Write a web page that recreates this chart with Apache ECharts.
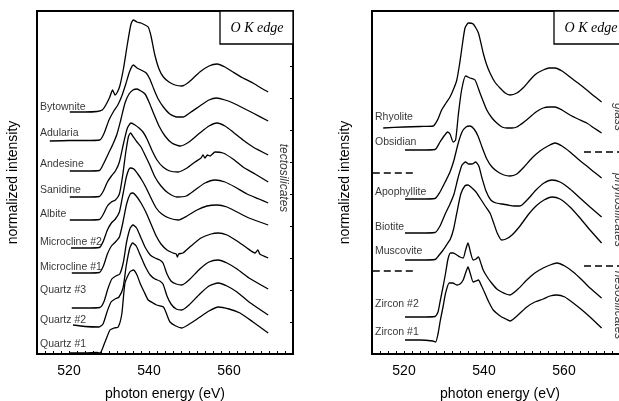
<!DOCTYPE html>
<html><head><meta charset="utf-8">
<script src="https://cdn.jsdelivr.net/npm/echarts@6/dist/echarts.min.js"></script>
<style>html,body{margin:0;padding:0;background:#fff}#c{width:619px;height:401px}</style>
</head><body><div id="c"></div>
<script>
// ---- data: photon energy (eV) vs offset normalized intensity (arb. units) ----
const xTicks = [520, 540, 560];
// left panel: tectosilicates
const bytownite = [[520.2,242],[524,242],[527,242.5],[528.3,244],[529.2,249],[530.2,257],[530.9,264],[531.5,259],[532.1,262],[532.7,268],[533.6,285],[534.6,310],[535.5,330],[536.1,334],[537,332],[538,331],[539,329],[539.8,327],[540.5,318],[541.4,300],[542.5,285],[543.6,277],[545,272],[546.5,269],[548.2,268],[550,272],[552.7,282],[555,288],[557,290],[559,287],[561,282],[563.5,276],[566,271],[568,266],[569.8,262]];
const adularia = [[515.2,213],[520,213.5],[524,213.5],[527.7,214],[528.8,221],[530,234],[531.2,243],[532.2,249],[533.2,258],[534.2,270],[535.2,283],[536.1,289],[537,286],[538,284],[539.3,281],[540.2,275],[541.2,265],[542.3,255],[543.6,247],[545.2,240],[547,237],[548.5,237],[550.5,242],[552.7,248],[555,254],[556.9,256],[559,254],[561,251],[563.5,246],[566,241],[569.8,233]];
const andesine = [[520.2,183],[524,183],[527.6,183.5],[528.6,190],[529.8,200],[531,210],[532,220],[533,235],[534,251],[535,260],[536,264],[537,265],[538,263],[539,260],[540,252],[541,242],[542.5,228],[544,218],[545.7,211],[547.8,208],[550,212],[552.7,221],[555,228],[557,231],[559,228],[561,222],[563.5,214],[566,207],[569.8,199]];
const sanidine = [[520.2,157],[524,157],[527.6,157.5],[528.6,163],[529.6,172],[530.6,178],[531.6,183],[532.6,192],[533.6,210],[534.6,226],[535.5,231],[536.5,229],[537.5,226],[538.5,222],[539.5,215],[540.7,204],[542,194],[543.5,187],[545.2,183],[547.3,182],[549.5,186],[551.5,192],[553,196],[553.5,199],[554,196],[554.6,199],[555.3,198],[556.5,202],[558.5,201],[561,195],[563.5,187],[566.5,180],[569.8,172]];
const albite = [[520.2,134],[524,134],[527.6,134.5],[528.6,140],[529.6,148],[530.6,152],[531.6,154],[532.6,160],[533.4,178],[534.2,202],[534.9,218],[535.4,221],[536.1,217],[537,212],[538,207],[539,199],[540.2,189],[541.5,177],[543,168],[544.8,161],[547,157],[549.3,158],[551.5,164],[554,171],[556.5,174],[559,172],[561.5,167],[564.5,160],[567.5,155],[569.8,151]];
const microcline2 = [[520.5,106],[524,106],[527.6,106.5],[528.6,113],[529.6,124],[530.6,131],[531.6,135],[532.6,142],[533.5,160],[534.4,178],[535.3,186],[536.2,185],[537.2,180],[538.2,174],[539.3,166],[540.5,156],[541.8,146],[543.2,140],[545,136],[547.3,134],[549.5,138],[552,144],[554.5,148],[557,149],[559.5,147],[562,142],[565,136],[569.8,129]];
const microcline1 = [[520.7,81],[524,81],[527.6,81.5],[528.6,88],[529.6,100],[530.6,108],[531.6,112],[532.6,117],[533.5,132],[534.4,150],[535.3,160],[536,161],[537,157],[538,151],[539.2,142],[540.5,130],[541.8,118],[543,110],[544.5,104],[546,101],[546.8,100],[547.1,97],[547.4,100],[548.5,101],[550.5,108],[553,116],[555.5,120],[557.3,121],[559.5,119],[562,113],[564.5,106],[566.5,101],[567.2,104],[567.7,100],[569.8,96]];
const quartz3 = [[520.7,46],[524,46],[527.7,46.5],[528.7,52],[529.7,65],[530.7,75],[531.7,78],[532.7,80],[533.6,92],[534.4,112],[535.3,126],[536,129],[536.9,126],[537.9,117],[539,107],[540.3,99],[541.5,96],[542.7,94],[543.5,91],[544.5,80],[545.5,73],[546.8,70],[548.2,69],[550,74],[552.7,85],[555,92],[557.3,94],[559.5,91],[562,85],[565,76],[569.8,65]];
const quartz2 = [[521,29],[524,27.5],[527.5,27],[528.5,30],[529.5,42],[530.5,52],[531.5,55],[532.5,57],[533.5,66],[534.3,88],[535.2,106],[535.9,111],[536.8,108],[537.8,99],[539,88],[540.3,79],[541.5,75],[542.7,73],[543.5,70],[544.5,58],[545.5,50],[546.8,45],[548.2,44],[550,49],[552.7,60],[555,68],[557.3,71],[559.5,68],[562,62],[565,52],[569.8,39]];
const quartz1 = [[520.2,1],[524,1],[527,1.5],[527.75,1],[529,12],[530.25,24],[531.3,26],[532.3,27],[533.2,40],[534,71],[535.2,82],[536.1,84],[537,79],[537.75,71],[538.8,62],[539.8,54],[541,51],[541.9,49],[543.6,47],[544.5,39],[545.25,32],[546.7,28],[548.2,26],[550.5,31],[552.75,37],[555,43],[557.3,47],[560,45],[562.75,41],[566,32],[569.8,21]];
// right panel: glass, phyllosilicates, nesosilicates
const rhyolite = [[514.8,226],[520,227],[524,227.5],[527.3,228],[528.5,235],[529.4,244],[530.5,251],[531.5,257],[532.5,266],[533.2,274],[533.9,290],[534.4,304],[535.25,326],[536.1,331],[537.3,330],[538.6,321],[539.8,301],[540.6,290],[541.5,281],[542.7,272],[544,266],[545.3,261],[546.5,259],[548.2,261],[550,267],[551.5,274],[553,280],[554.8,284],[556.3,286],[557.75,286],[559.5,283],[561.5,277],[563.5,271],[565.7,264],[567.5,258],[569.4,252]];
const obsidian = [[520.25,204],[524,204],[527.75,204.5],[529,212],[530.2,219],[530.9,222],[531.5,220],[532.3,212],[532.9,214],[533.6,240],[534.4,264],[535.4,278],[536.5,276],[537.75,274],[539,261],[540.7,244],[542,236],[543.2,231],[544.5,227],[545.75,226],[547,226],[548.2,227],[550,232],[551.5,237],[553,242],[554.8,246],[556.3,247],[557.75,247],[559.5,244],[561.5,239],[563.5,235],[565.7,231],[567.5,226],[569.4,221]];
const apophyllite = [[520.25,155],[524,155],[527.75,155.5],[529,162],[530.3,172],[531.5,182],[532.5,194],[533.5,210],[534.5,222],[535.5,227],[536.5,228],[537.5,225],[538.5,218],[539.5,207],[540.7,195],[542,187],[543.5,182],[545,179],[546.5,178],[548.2,180],[550,187],[552,196],[554,203],[556,208],[557.75,211],[559.5,208],[561.5,202],[563.5,195],[565.7,188],[567.5,182],[569.4,176]];
const biotite = [[520.25,121],[524,121],[527.75,121.5],[529,128],[530.3,140],[531.5,150],[532.5,160],[533.5,176],[534.5,189],[535.4,192],[536.2,190],[537,190],[537.9,192],[538.7,188],[539.5,176],[540.5,163],[541.7,154],[543,151],[544.5,150],[546,149],[547.5,148],[549,148],[551,155],[553,164],[555,171],[557,174],[559,172],[561.5,165],[564,156],[566.5,147],[569.4,137]];
const muscovite = [[520.25,94],[524,94],[527.75,94.5],[528.8,99],[529.8,104],[530.8,110],[531.6,115],[532.4,125],[533.2,141],[534.2,160],[535.2,168],[536,169],[537,166],[538,162],[539,156],[540.3,148],[541.5,141],[542.5,130],[543.3,121],[544.4,114],[545.5,115],[547,119],[549,128],[551,139],[553,148],[555,154],[557,157],[559,155],[561.5,147],[564,136],[566.5,124],[569.4,111]];
const zircon2 = [[520.25,37],[524,37],[527.75,37.5],[528.5,42],[529.1,54],[529.8,68],[530.4,81],[531,95],[531.6,101],[532.3,101],[533.2,99],[534,97],[534.8,96],[535.4,104],[536,111],[536.6,102],[537.3,94],[538,95],[538.6,97],[539.2,91],[539.8,84],[540.8,77],[541.9,71],[543.2,65],[544.4,62],[545.5,60],[546.5,59],[548.5,65],[550.7,74],[552.7,81],[554.8,86],[556.5,89],[558.2,91],[560.2,88],[562.3,82],[564.5,74],[566.5,66],[569.4,56]];
const zircon1 = [[520.25,14],[524,14],[527.2,13],[527.9,12],[528.5,20],[529.1,34],[529.8,48],[530.4,61],[531.3,71],[532.2,71],[533.2,69],[534,70],[534.8,74],[535.4,81],[536,87],[536.6,80],[537.3,72],[538,73],[538.6,74],[539.4,68],[540.2,61],[541.2,52],[542.3,44],[543.4,40],[544.4,37],[545.5,35],[546.5,33],[548.5,39],[550.7,47],[552.7,52],[554.8,55],[556.5,58],[558.2,59],[560.2,57],[562.3,51],[564.5,44],[566.5,37],[569.4,26]];

const leftNames = ['Bytownite','Adularia','Andesine','Sanidine','Albite','Microcline #2','Microcline #1','Quartz #3','Quartz #2','Quartz #1'];
const leftCurves = [bytownite, adularia, andesine, sanidine, albite, microcline2, microcline1, quartz3, quartz2, quartz1];
const leftLabelLevels = [247,221,190,164,140,112,87,64,34,10];
const rightNames = ['Rhyolite','Obsidian','Apophyllite','Biotite','Muscovite','Zircon #2','Zircon #1'];
const rightCurves = [rhyolite, obsidian, apophyllite, biotite, muscovite, zircon2, zircon1];
const rightLabelLevels = [237,212,162,127,103,50,22];
const leftGroups = [['tectosilicates',176]];
const rightGroups = [['glass',237],['phyllosilicates',144],['nesosilicates',49]];
const rightSeparators = [181, 83];      // left-side dashes
const rightSeparatorsEnd = [202, 88];   // right-side dashes

const FONT = '"Liberation Sans", Arial, Helvetica, sans-serif';
const chart = echarts.init(document.getElementById('c'), null, {renderer:'canvas'});

function xAx(g){
  return {gridIndex:g, type:'value', min:512, max:576, interval:2,
    axisLine:{show:false}, splitLine:{show:false},
    axisTick:{show:true, inside:true, length:3, lineStyle:{color:'#000', width:1}},
    axisLabel:{color:'#000', fontSize:14, fontFamily:FONT, margin:10,
      formatter:v=> xTicks.indexOf(v)>=0 ? String(v) : ''},
    name:'photon energy (eV)', nameLocation:'middle', nameGap:33,
    nameTextStyle:{color:'#000', fontSize:14, fontFamily:FONT}};
}
function yAxL(g,gap){
  return {gridIndex:g, type:'value', min:0, max:343, position:'left',
    axisLine:{show:false}, axisTick:{show:false}, axisLabel:{show:false}, splitLine:{show:false},
    name:'normalized intensity', nameLocation:'middle', nameGap:gap,
    nameTextStyle:{color:'#000', fontSize:14, fontFamily:FONT}};
}
function yAxR(g){
  return {gridIndex:g, type:'value', min:0, max:343, interval:32, position:'right',
    axisLine:{show:false}, axisLabel:{show:false}, splitLine:{show:false},
    axisTick:{show:true, inside:true, length:3, lineStyle:{color:'#000', width:1}}};
}

const series = [];
function addCurves(curves, names, xi, yi){
  curves.forEach((c,i)=>{
    series.push({type:'line', name:names[i], xAxisIndex:xi, yAxisIndex:yi, data:c,
      showSymbol:false, smooth:0.2, silent:true,
      lineStyle:{color:'#000', width:1.3}});
  });
}
addCurves(leftCurves, leftNames, 0, 0);
addCurves(rightCurves, rightNames, 1, 2);

function addLabels(names, levels, xi, yi){
  series.push({type:'scatter', xAxisIndex:xi, yAxisIndex:yi, symbolSize:0, silent:true,
    data: names.map((n,i)=>({value:[512, levels[i]], name:n})),
    label:{show:true, position:'right', distance:3, formatter:p=>p.name,
      color:'#000', fontSize:10.5, fontFamily:FONT}});
}
addLabels(leftNames, leftLabelLevels, 0, 0);
addLabels(rightNames, rightLabelLevels, 1, 2);

function addGroups(groups, xpos, xi, yi){
  series.push({type:'scatter', xAxisIndex:xi, yAxisIndex:yi, symbolSize:0, silent:true,
    data: groups.map(g=>({value:[xpos, g[1]], name:g[0]})),
    label:{show:true, position:'inside', rotate:-90, formatter:p=>p.name,
      color:'#000', fontSize:12, fontStyle:'italic', fontFamily:FONT}});
}
addGroups(leftGroups, 573.5, 0, 0);
addGroups(rightGroups, 573.6, 1, 2);

rightSeparators.forEach(v=>{
  series.push({type:'line', xAxisIndex:1, yAxisIndex:2, data:[[512.2,v],[522.6,v]], showSymbol:false, silent:true,
    lineStyle:{color:'#000', width:1.5, type:[7,4]}});
});
rightSeparatorsEnd.forEach(v=>{
  series.push({type:'line', xAxisIndex:1, yAxisIndex:2, data:[[565,v],[576,v]], showSymbol:false, silent:true,
    lineStyle:{color:'#000', width:1.5, type:[7,4]}});
});

const option = {
  animation:false,
  backgroundColor:'#fff',
  grid:[
    {left:37, top:11, width:256, height:343, show:true, borderColor:'#000', borderWidth:2, backgroundColor:'transparent', outerBoundsMode:'none', containLabel:false},
    {left:372, top:11, width:256, height:343, show:true, borderColor:'#000', borderWidth:2, backgroundColor:'transparent', outerBoundsMode:'none', containLabel:false}
  ],
  xAxis:[xAx(0), xAx(1)],
  yAxis:[yAxL(0,17), yAxR(0), yAxL(1,20), yAxR(1)],
  series:series,
  graphic:[
    {type:'rect', shape:{x:220, y:11, width:73, height:33}, style:{fill:'#fff', stroke:'#000', lineWidth:1.3}, z:10},
    {type:'text', x:257, y:28, style:{text:'O K edge', font:'italic 14px "Liberation Serif", "Times New Roman", serif', fill:'#000', textAlign:'center', textVerticalAlign:'middle'}, z:11},
    {type:'rect', shape:{x:554, y:11, width:74, height:33}, style:{fill:'#fff', stroke:'#000', lineWidth:1.3}, z:10},
    {type:'text', x:591, y:28, style:{text:'O K edge', font:'italic 14px "Liberation Serif", "Times New Roman", serif', fill:'#000', textAlign:'center', textVerticalAlign:'middle'}, z:11}
  ]
};
chart.setOption(option);
</script></body></html>
